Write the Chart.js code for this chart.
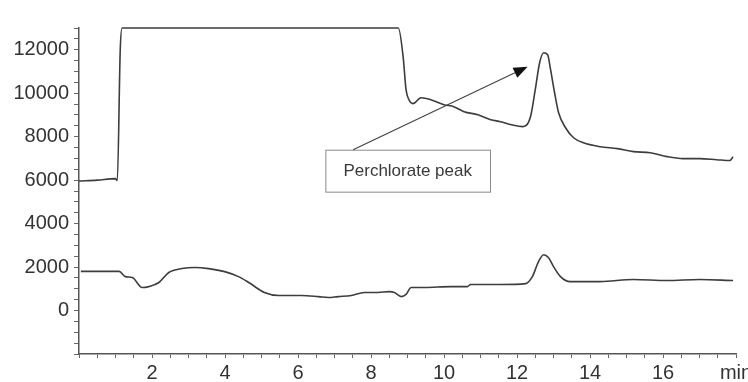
<!DOCTYPE html>
<html>
<head>
<meta charset="utf-8">
<script src="https://cdn.jsdelivr.net/npm/chart.js@4"></script>
<style>
    body { margin: 0; background: #fff; }
    #grafico { display: block; }
</style>
</head>
<body>
<canvas id="grafico" width="748" height="382"></canvas>
<script>
// tempo (min) e sinal do traço de cima
const tempoSuperior = [0, 0.5, 0.99, 1.05, 1.13, 1.18, 4, 8.75, 8.88, 8.96, 9.04, 9.15, 9.37, 9.64, 10.0, 10.27, 10.55, 10.93, 11.28, 11.55, 11.85, 12.15, 12.37, 12.5, 12.62, 12.73, 12.84, 12.92, 13.03, 13.14, 13.33, 13.55, 13.82, 14.28, 14.75, 15.19, 15.65, 16.11, 16.55, 17.0, 17.47, 17.83, 17.92];
const sinalSuperior = [5960, 6000, 6070, 5980, 12000, 13000, 13000, 13000, 11680, 10160, 9700, 9520, 9790, 9700, 9470, 9380, 9150, 9010, 8780, 8690, 8550, 8460, 8920, 10160, 11400, 11860, 11770, 11080, 10020, 9100, 8410, 7950, 7720, 7540, 7450, 7310, 7260, 7080, 6990, 6990, 6940, 6900, 7080];

// tempo (min) e sinal do traço de baixo
const tempoInferior = [0.05, 1.1, 1.27, 1.46, 1.73, 1.91, 2.19, 2.46, 2.82, 3.18, 3.55, 3.99, 4.37, 4.65, 5.08, 5.47, 6.1, 6.56, 6.83, 7.1, 7.46, 7.82, 8.19, 8.5, 8.64, 8.83, 8.96, 9.1, 9.46, 10.19, 10.64, 10.73, 11.55, 12.24, 12.42, 12.59, 12.73, 12.86, 13.0, 13.19, 13.46, 14.28, 15.19, 16.11, 17.0, 17.92];
const sinalInferior = [1800, 1800, 1560, 1520, 1060, 1100, 1290, 1750, 1930, 1980, 1930, 1790, 1560, 1290, 830, 690, 690, 640, 600, 640, 690, 830, 830, 870, 830, 640, 740, 1060, 1060, 1100, 1100, 1200, 1200, 1240, 1560, 2250, 2570, 2440, 2020, 1560, 1330, 1330, 1430, 1380, 1430, 1380];

// rótulos dos eixos
const rotulosX = { 2: '2', 4: '4', 6: '6', 8: '8', 10: '10', 12: '12', 14: '14', 16: '16', 18: 'min' };
const rotulosY = [0, 2000, 4000, 6000, 8000, 10000, 12000];

// caixa e seta da anotação (em unidades dos eixos)
const textoAnotacao = 'Perchlorate peak';
const caixaAnotacao = { x1: 6.75, x2: 11.26, y1: 7400, y2: 5470 };
const setaAnotacao = { x1: 7.51, y1: 7400, x2: 12.29, y2: 11220 };

const fonte = "'Liberation Sans', Arial, sans-serif";
const corTraco = '#3d3d3d';

function pontos(tempos, sinais) {
    return tempos.map(function (t, i) {
        return { x: t, y: sinais[i] };
    });
}

const anotacao = {
    id: 'anotacao',
    afterDatasetsDraw: function (chart) {
        const ctx = chart.ctx;
        const x = chart.scales.x;
        const y = chart.scales.y;

        // caixa com o texto
        const bx1 = x.getPixelForValue(caixaAnotacao.x1);
        const bx2 = x.getPixelForValue(caixaAnotacao.x2);
        const by1 = y.getPixelForValue(caixaAnotacao.y1);
        const by2 = y.getPixelForValue(caixaAnotacao.y2);
        ctx.save();
        ctx.fillStyle = '#fff';
        ctx.fillRect(bx1, by1, bx2 - bx1, by2 - by1);
        ctx.strokeStyle = '#8a8a8a';
        ctx.lineWidth = 1;
        ctx.strokeRect(bx1 + 0.5, by1 + 0.5, bx2 - bx1, by2 - by1);
        ctx.fillStyle = '#3a3a3a';
        ctx.font = '17px ' + fonte;
        ctx.textAlign = 'center';
        ctx.textBaseline = 'middle';
        ctx.fillText(textoAnotacao, (bx1 + bx2) / 2, (by1 + by2) / 2 + 1);

        // seta
        const sx1 = x.getPixelForValue(setaAnotacao.x1);
        const sy1 = y.getPixelForValue(setaAnotacao.y1);
        const sx2 = x.getPixelForValue(setaAnotacao.x2);
        const sy2 = y.getPixelForValue(setaAnotacao.y2);
        const ang = Math.atan2(sy2 - sy1, sx2 - sx1);
        const comp = 14, larg = 5.5;
        const bxs = sx2 - comp * Math.cos(ang);
        const bys = sy2 - comp * Math.sin(ang);
        ctx.strokeStyle = '#444';
        ctx.lineWidth = 1.2;
        ctx.beginPath();
        ctx.moveTo(sx1, sy1);
        ctx.lineTo(bxs, bys);
        ctx.stroke();
        ctx.fillStyle = '#111';
        ctx.beginPath();
        ctx.moveTo(sx2, sy2);
        ctx.lineTo(bxs + larg * Math.sin(ang), bys - larg * Math.cos(ang));
        ctx.lineTo(bxs - larg * Math.sin(ang), bys + larg * Math.cos(ang));
        ctx.closePath();
        ctx.fill();
        ctx.restore();
    }
};

const ctx = document.getElementById('grafico').getContext('2d');
const grafico = new Chart(ctx, {
    type: 'line',
    data: {
        datasets: [{
            data: pontos(tempoSuperior, sinalSuperior),
            borderColor: corTraco,
            borderWidth: 1.6,
            pointRadius: 0,
            cubicInterpolationMode: 'monotone',
            clip: false
        }, {
            data: pontos(tempoInferior, sinalInferior),
            borderColor: corTraco,
            borderWidth: 1.6,
            pointRadius: 0,
            cubicInterpolationMode: 'monotone',
            clip: false
        }]
    },
    options: {
        responsive: false,
        animation: false,
        layout: { padding: { top: 28, right: 12, left: 0, bottom: 0 } },
        plugins: {
            legend: { display: false },
            tooltip: { enabled: false }
        },
        scales: {
            x: {
                type: 'linear',
                min: 0,
                max: 18,
                grid: { drawOnChartArea: false, drawTicks: true, tickLength: 4, color: '#666' },
                border: { color: '#555', width: 1.5 },
                ticks: {
                    stepSize: 0.5,
                    autoSkip: false,
                    maxRotation: 0,
                    padding: 3,
                    color: '#333',
                    font: { family: fonte, size: 20 },
                    callback: function (value) {
                        return rotulosX[value] || '';
                    }
                },
                afterFit: function (scale) {
                    scale.height = 28;
                    scale.paddingLeft = 0;
                    scale.paddingRight = 0;
                }
            },
            y: {
                min: -2000,
                max: 13000,
                grid: { drawOnChartArea: false, drawTicks: true, tickLength: 5, color: '#666' },
                border: { color: '#555', width: 1.5 },
                ticks: {
                    stepSize: 500,
                    autoSkip: false,
                    padding: 5,
                    color: '#333',
                    font: { family: fonte, size: 20 },
                    callback: function (value) {
                        return rotulosY.includes(value) ? String(value) : '';
                    }
                },
                afterFit: function (scale) {
                    scale.width = 79;
                }
            }
        }
    },
    plugins: [anotacao]
});
</script>
</body>
</html>
